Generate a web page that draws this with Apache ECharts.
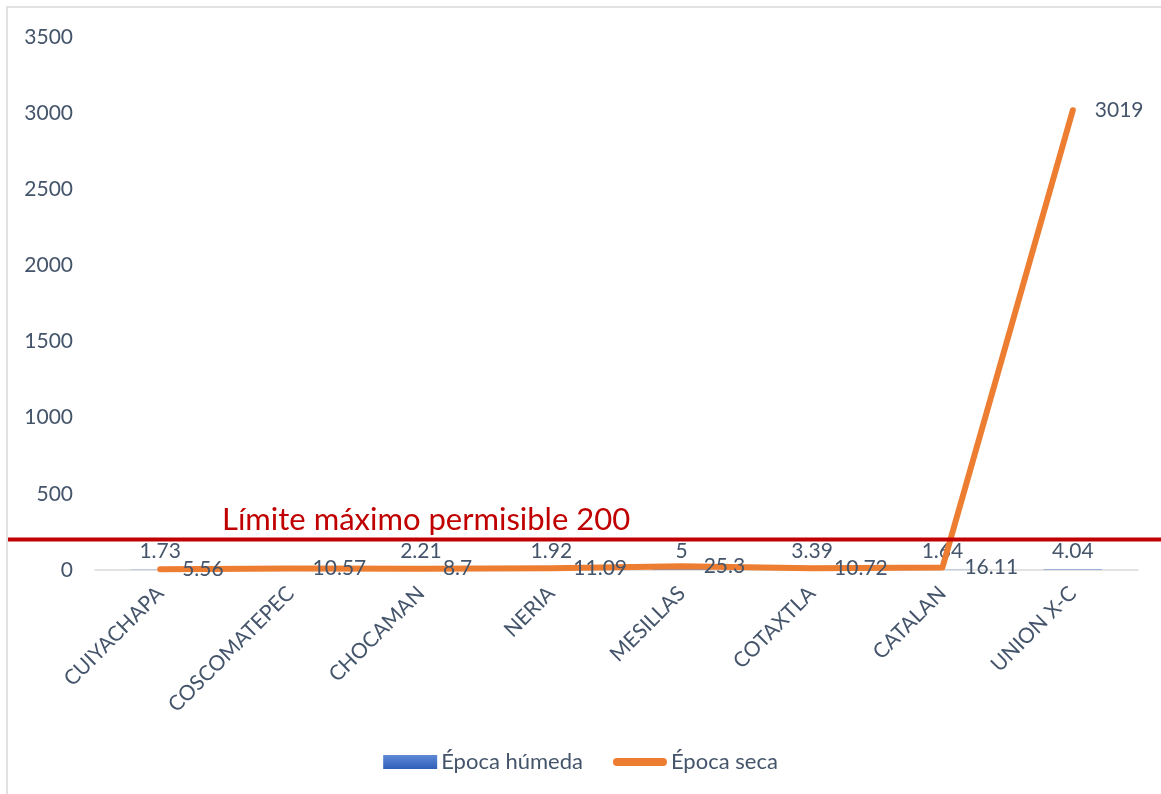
<!DOCTYPE html>
<html>
<head>
<meta charset="utf-8">
<script src="https://cdn.jsdelivr.net/npm/echarts@6/dist/echarts.min.js"></script>
<style>
  html, body { margin: 0; padding: 0; background: #fff; }
  #chart { width: 1161px; height: 794px; }
</style>
</head>
<body>
<div id="chart"></div>
<script>
// Sampling sites
const categories = ['CUIYACHAPA', 'COSCOMATEPEC', 'CHOCAMAN', 'NERIA', 'MESILLAS', 'COTAXTLA', 'CATALAN', 'UNION X-C'];
// Wet season values (no value reported for COSCOMATEPEC)
const epocaHumeda = [1.73, null, 2.21, 1.92, 5, 3.39, 1.64, 4.04];
// Dry season values
const epocaSeca = [5.56, 10.57, 8.7, 11.09, 25.3, 10.72, 16.11, 3019];
// Maximum permissible limit
const limite = 200;
const limiteTexto = 'Límite máximo permisible 200';
const yTicks = { min: 0, max: 3500, interval: 500 };

const textColor = '#44546A';
const seriesOrange = '#ED7D31';
const fontFamily = 'Lato, "Open Sans", sans-serif';

const chart = echarts.init(document.getElementById('chart'), null, { renderer: 'canvas' });

const option = {
  backgroundColor: '#fff',
  textStyle: { fontFamily: fontFamily },
  animation: false,
  grid: { left: 95, right: 23, top: 37, bottom: 224, containLabel: false },
  legend: {
    bottom: 16,
    left: 'center',
    itemWidth: 54,
    itemHeight: 14,
    itemGap: 30,
    textStyle: { color: textColor, fontSize: 22, fontFamily: fontFamily, padding: [0, 0, 0, -1] },
    data: [
      { name: 'Época húmeda', icon: 'rect' },
      {
        name: 'Época seca',
        icon: 'path://M0,4 A4,4 0 0 1 4,0 L51,0 A4,4 0 0 1 51,8 L4,8 A4,4 0 0 1 0,4 Z',
        itemStyle: { color: seriesOrange, opacity: 1 }
      }
    ]
  },
  xAxis: {
    type: 'category',
    data: categories,
    boundaryGap: true,
    axisLine: { show: true, lineStyle: { color: '#D9D9D9', width: 1.5 } },
    axisTick: { show: false },
    axisLabel: {
      color: textColor,
      fontSize: 21,
      rotate: 45,
      margin: 20,
      interval: 0,
      fontFamily: fontFamily
    },
    splitLine: { show: false }
  },
  yAxis: {
    type: 'value',
    min: yTicks.min,
    max: yTicks.max,
    interval: yTicks.interval,
    axisLine: { show: false },
    axisTick: { show: false },
    splitLine: { show: false },
    axisLabel: {
      color: textColor,
      fontSize: 21,
      margin: 22,
      fontFamily: fontFamily,
      formatter: function (v) { return String(v); }
    }
  },
  series: [
    {
      name: 'Época húmeda',
      type: 'bar',
      data: epocaHumeda,
      barWidth: '45%',
      itemStyle: {
        color: new echarts.graphic.LinearGradient(0, 0, 0, 1, [
          { offset: 0, color: '#5F8AD6' },
          { offset: 1, color: '#2E5EB8' }
        ])
      },
      label: {
        show: true,
        position: 'top',
        distance: 8,
        color: textColor,
        fontSize: 21,
        fontFamily: fontFamily
      },
      z: 2
    },
    {
      name: 'Época seca',
      type: 'line',
      data: epocaSeca,
      symbol: 'circle',
      symbolSize: 2,
      showSymbol: true,
      lineStyle: { color: seriesOrange, width: 6, cap: 'round', join: 'round' },
      itemStyle: { color: seriesOrange, borderWidth: 0 },
      label: {
        show: true,
        position: 'right',
        distance: 21,
        color: textColor,
        fontSize: 21,
        fontFamily: fontFamily
      },
      labelLayout: { hideOverlap: false },
      z: 3
    }
  ]
};

chart.setOption(option);

// Limit line across the whole chart, placed through the value axis
const yLimit = chart.convertToPixel({ yAxisIndex: 0 }, limite);
chart.setOption({
  graphic: [
    {
      type: 'rect',
      shape: { x: 7, y: 7, width: 1200, height: 850 },
      style: { fill: 'none', stroke: '#D9D9D9', lineWidth: 1.5 },
      silent: true,
      z: 0
    },
    {
      type: 'line',
      shape: { x1: 8, y1: yLimit, x2: 1161, y2: yLimit },
      style: { stroke: '#C00000', lineWidth: 4 },
      silent: true,
      z: 10
    },
    {
      type: 'text',
      x: 222,
      y: yLimit - 4,
      style: {
        text: limiteTexto,
        fill: '#C00000',
        fontSize: 31,
        fontFamily: fontFamily,
        verticalAlign: 'bottom'
      },
      silent: true,
      z: 10
    }
  ]
});
</script>
</body>
</html>
